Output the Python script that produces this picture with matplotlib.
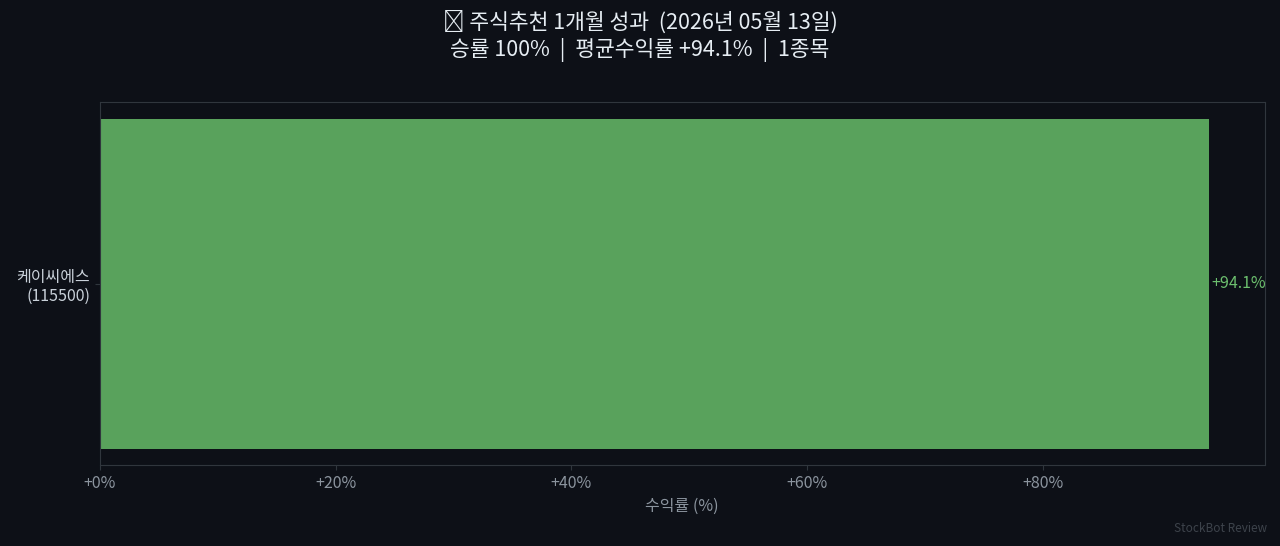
import matplotlib.pyplot as plt
from matplotlib.ticker import FuncFormatter

plt.rcParams['font.family'] = ['Noto Sans CJK KR', 'DejaVu Sans']

# data
names = ['케이씨에스\n(115500)']
returns = [94.1]
title = '📊 주식추천 1개월 성과  (2026년 05월 13일)\n승률 100%  |  평균수익률 +94.1%  |  1종목'

bg = '#0d1017'
green = '#59a25c'

fig, ax = plt.subplots(figsize=(12.8, 5.46), dpi=100)
fig.patch.set_facecolor(bg)
ax.set_facecolor(bg)

bars = ax.barh(names, returns, color=green, height=0.6)
for b, v in zip(bars, returns):
    ax.text(b.get_width() + 0.2, b.get_y() + b.get_height() / 2, f'+{v:.1f}%',
            va='center', ha='left', color='#6cbf6e', fontsize=11.5)

ax.set_xlim(0, max(returns) * 1.05)
ax.xaxis.set_major_formatter(FuncFormatter(lambda x, p: f'+{x:.0f}%'))
ax.set_xlabel('수익률 (%)', color='#8b949e', fontsize=11.5)
ax.tick_params(axis='x', colors='#30363d', labelcolor='#8b949e', labelsize=11.5)
ax.tick_params(axis='y', colors='#30363d', labelcolor='#c9d1d9', labelsize=11.5)
for s in ax.spines.values():
    s.set_color('#30363d')

fig.suptitle(title, color='#e6edf3', fontsize=15.5, y=0.98, linespacing=1.2)
fig.text(0.99, 0.025, 'StockBot Review', color='#3d434b', fontsize=8.5, ha='right')

plt.subplots_adjust(left=0.078, right=0.988, top=0.813, bottom=0.148)
plt.savefig('out.png', facecolor=bg)
